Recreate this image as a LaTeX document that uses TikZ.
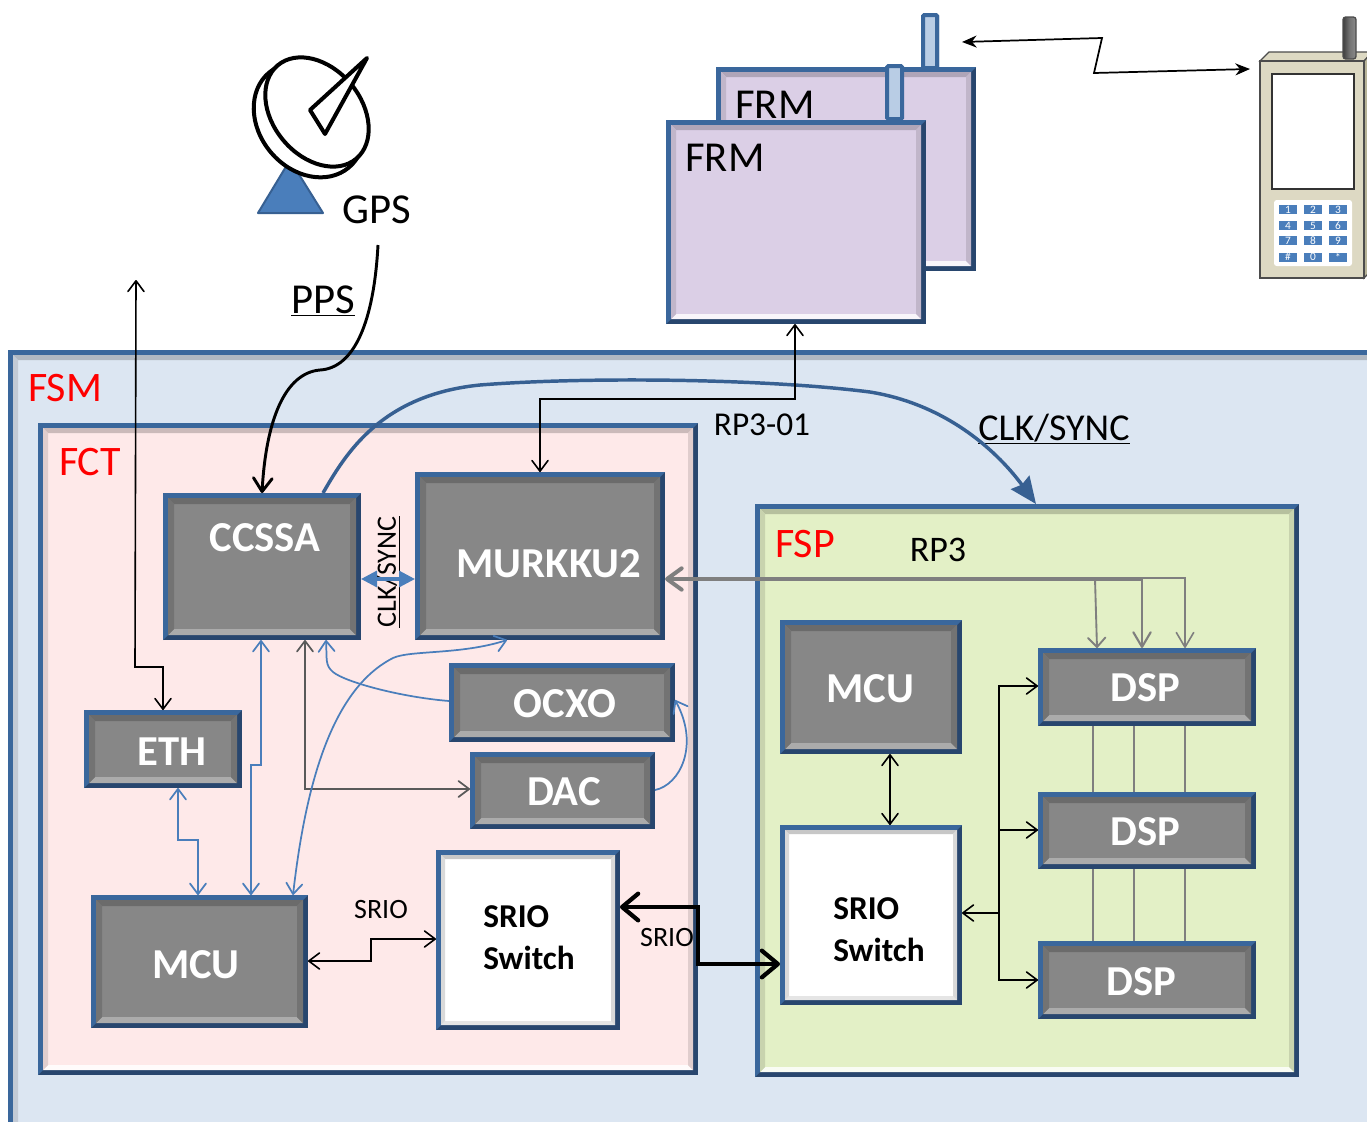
\documentclass[tikz,border=0pt]{standalone}
\usepackage{fontspec}
\setmainfont{Carlito}
\usetikzlibrary{arrows.meta,calc}
\definecolor{edgeblue}{HTML}{3A679C}
\definecolor{edgedark}{HTML}{28466E}
\definecolor{fsmfill}{HTML}{DCE6F2}
\definecolor{fctfill}{HTML}{FEE9E9}
\definecolor{fspfill}{HTML}{E3F0C6}
\definecolor{frmfill}{HTML}{DBCFE6}
\definecolor{antfill}{HTML}{B9CDE5}
\definecolor{boxgray}{HTML}{878787}
\definecolor{wire}{HTML}{4A7EBB}
\definecolor{wiredark}{HTML}{376092}
\definecolor{graywire}{HTML}{7F7F7F}
\definecolor{phonefill}{HTML}{DDD9C3}
\definecolor{phoneside}{HTML}{B8B498}
\definecolor{keyblue}{HTML}{4A7EBB}
\newcommand{\fs}[1]{\fontsize{#1}{#1}\selectfont}
\tikzset{
  x=0.75pt,y=-0.75pt,
  boxshape/.style={inner sep=0pt,outer sep=0pt},
  graytext/.style={text=white,font=\fs{32}\bfseries,inner sep=0pt},
  switchtext/.style={text=black,font=\fs{25}\bfseries,inner sep=0pt},
  lab/.style={font=\fs{#1},inner sep=0pt,text=black},
  redlab/.style={font=\fs{#1},inner sep=0pt,text=red},
  barb/.tip={Straight Barb[length=8pt,width=12pt,round]},
  bigbarb/.tip={Straight Barb[length=10pt,width=15pt,round]},
  thinblack/.style={draw=black,line width=1.2pt,{barb}-{barb}},
  thinblue/.style={draw=wire,line width=1.3pt},
  grayline/.style={draw=graywire,line width=1.2pt},
}
% x0,y0,x1,y1,fill,top bevel,bottom bevel,side bevel,bevel inset
\newcommand{\bevelled}[9]{%
  \fill[edgedark] (#1,#2) rectangle (#3,#4);
  \fill[edgeblue] (#1,#2) -- (#3,#2) -- (#3-5,#2+5) -- (#1+5,#2+5) -- (#1+5,#4-5) -- (#1,#4) -- cycle;
  \fill[#5] (#1+5,#2+5) rectangle (#3-5,#4-5);
  \fill[#6] (#1+5,#2+5) -- (#3-5,#2+5) -- (#3-#9,#2+#9) -- (#1+#9,#2+#9) -- cycle;
  \fill[#7] (#1+5,#4-5) -- (#3-5,#4-5) -- (#3-#9,#4-#9) -- (#1+#9,#4-#9) -- cycle;
  \fill[#8] (#1+5,#2+5) -- (#1+#9,#2+#9) -- (#1+#9,#4-#9) -- (#1+5,#4-5) -- cycle;
  \fill[#8] (#3-5,#2+5) -- (#3-#9,#2+#9) -- (#3-#9,#4-#9) -- (#3-5,#4-5) -- cycle;
}
% name, x0, y0, x1, y1, text, text x, text y
\newcommand{\gbox}[8]{%
  \bevelled{#2}{#3}{#4}{#5}{boxgray}{black!58}{black!33}{black!55}{11}
  \node[boxshape,minimum width={(#4-#2)*0.75pt},minimum height={(#5-#3)*0.75pt}] (#1) at ({(#2+#4)/2},{(#3+#5)/2}) {};
  \node[graytext] (#1t) at (#7,#8) {#6};
}
% name, x0, y0, x1, y1, x of text, y1 text, y2 text
\newcommand{\wbox}[8]{%
  \bevelled{#2}{#3}{#4}{#5}{white}{black!22}{black!10}{black!15}{9}
  \node[boxshape,minimum width={(#4-#2)*0.75pt},minimum height={(#5-#3)*0.75pt}] (#1) at ({(#2+#4)/2},{(#3+#5)/2}) {};
  \node[switchtext,anchor=west] (#1a) at (#6,#7) {SRIO};
  \node[switchtext,anchor=west] (#1b) at (#6,#8) {Switch};
}
% name, x0, y0, x1, y1, fill
\newcommand{\pbox}[6]{%
  \bevelled{#2}{#3}{#4}{#5}{#6}{#6!80!black}{#6!20!white}{#6!88!black}{10}
  \node[boxshape,minimum width={(#4-#2)*0.75pt},minimum height={(#5-#3)*0.75pt}] (#1) at ({(#2+#4)/2},{(#3+#5)/2}) {};
}
\newcommand{\antenna}[5]{%
  \node[boxshape,fill=antfill,draw=edgeblue,line width=3pt,rounded corners=1pt,minimum width={(#4-#2-4)*0.75pt},minimum height={(#5-#3-4)*0.75pt}] (#1) at ({(#2+#4)/2},{(#3+#5)/2}) {};
}
\begin{document}
\begin{tikzpicture}
\useasboundingbox[fill=white] (0,0) rectangle (1367,1121);
\begin{scope}
\clip (0,0) rectangle (1367,1121);

% --- GPS dish
\fill[wire,draw=wiredark,line width=1.5pt,line join=round] (290,160) -- (258,213) -- (323,213) -- cycle;
\draw[black,line width=3pt,fill=white] (309,120) ellipse [x radius=62,y radius=50,rotate=-50];
\draw[black,line width=3pt,fill=white] (317,112) ellipse [x radius=61,y radius=44,rotate=-50];
\draw[black,line width=3pt,fill=white,line join=round] (367,58) -- (310,110) -- (325,134) -- cycle;
\node[lab=32] (gps) at (377,210) {GPS};

% --- FRM units
\antenna{antback}{921}{13}{939}{70}
\pbox{frmback}{716}{67}{976}{271}{frmfill}
\antenna{antback}{921}{13}{939}{70}
\node[lab=32] (frmbacklab) at (775,105) {FRM};
\pbox{frmfront}{666}{120}{926}{324}{frmfill}
\antenna{antfront}{885}{64}{904}{121}
\node[lab=32] (frmfrontlab) at (725,158) {FRM};

% --- phone
\fill[phonefill,draw=black!70,line width=1pt] (1260,61) -- (1269,52) -- (1372,52) -- (1372,61) -- cycle;
\fill[phoneside,draw=black!70,line width=1pt] (1364,61) -- (1372,52) -- (1372,270) -- (1364,278) -- cycle;
\node[draw=black!70,fill=phonefill,line width=1pt,inner sep=0pt,minimum width=78pt,minimum height=162.75pt] (phone) at (1312,169.5) {};
\node[draw=black!80,fill=white,line width=1pt,inner sep=0pt,minimum width=61.5pt,minimum height=86.25pt] (screen) at (1313,131.5) {};
\node[fill=white,rounded corners=2pt,inner sep=0pt,minimum width=58.5pt,minimum height=49.5pt] (keypad) at (1313,233) {};
\foreach \kx/\ky/\kt/\kn in {1288/209.5/1/a,1313/209.5/2/b,1338/209.5/3/c,1288/225.5/4/d,1313/225.5/5/e,1338/225.5/6/f,1288/240.5/7/g,1313/240.5/8/h,1338/240.5/9/i,1288/257/\#/j,1313/257/0/k,1338/257/*/l}
  \node[fill=keyblue,text=white,font=\fs{8.5},inner sep=0pt,minimum width=13.5pt,minimum height=6.75pt] (key\kn) at (\kx,\ky) {\kt};
\shade[left color=black!75,right color=black!45,middle color=black!55,rounded corners=2pt] (1343,17) rectangle (1356,59);
\draw[black!70,line width=1pt,rounded corners=2pt] (1343,17) rectangle (1356,59);

% --- panels
\pbox{fsm}{8}{350}{1400}{1160}{fsmfill}
\pbox{fct}{38}{423}{698}{1075}{fctfill}
\pbox{fsp}{755}{504}{1299}{1077}{fspfill}
\node[redlab=31.5] (fsmlab) at (65,388) {FSM};
\node[redlab=31.5] (fctlab) at (90,462) {FCT};
\node[redlab=31.5] (fsplab) at (805,544) {FSP};

% --- gray boxes
\gbox{ccssa}{163}{493}{361}{640}{CCSSA}{265}{538}
\gbox{murkku}{415}{472}{665}{640}{MURKKU2}{549}{564}
\gbox{ocxo}{449}{663}{675}{742}{OCXO}{565}{704}
\gbox{dac}{470}{752}{655}{829}{DAC}{564}{792}
\gbox{eth}{84}{710}{242}{788}{ETH}{172}{752}
\gbox{mcua}{91}{895}{308}{1028}{MCU}{196}{965}
\gbox{mcub}{780}{620}{962}{754}{MCU}{870}{689}
\gbox{dspa}{1038}{648}{1256}{726}{DSP}{1145}{688}
\gbox{dspb}{1038}{792}{1256}{869}{DSP}{1145}{832}
\gbox{dspc}{1038}{941}{1256}{1019}{DSP}{1141}{982}
\wbox{swa}{436}{850}{620}{1030}{483}{917}{958}
\wbox{swb}{780}{825}{962}{1005}{833}{909}{950}

% --- free-end coordinates
\coordinate (radioa) at (962,42);
\coordinate (radiob) at (1250,69);
\coordinate (uplink) at (136,280);
\coordinate (ppsout) at (378,245);

% --- labels
\node[lab=32] (ppslab) at (323,301) {\underline{PPS}};
\node[lab=25] (rp301) at (762,425) {RP3-01};
\node[lab=28.5] (clklab) at (1054,429) {\underline{CLK/SYNC}};
\node[lab=27] (rp3lab) at (938,550) {RP3};
\node[lab=21] (srioa) at (381,909) {SRIO};
\node[lab=21] (sriob) at (667,937) {SRIO};
\node[lab=21,rotate=90] (clkv) at (388,572) {\underline{CLK/SYNC}};

% --- connectors
\draw[black,line width=1.3pt,{Stealth[length=11pt,width=9pt]}-{Stealth[length=11pt,width=9pt]}] (radioa) -- (1102,38) -- (1094,73) -- (radiob);
\draw[thinblack] (uplink) -- (135,667) -- (163,667) -- (eth.north -| 163,0);
\draw[black,line width=2.2pt,-{Straight Barb[length=10pt,width=14pt,round]}] (ppsout) .. controls (374,320) and (355,368) .. (320,370) .. controls (285,373) and (266,420) .. (ccssa.north -| 262,0);
\draw[wiredark,line width=2.6pt,-{Stealth[length=20pt,width=17pt,inset=2pt]}] (ccssa.north -| 323,0) .. controls (345,455) and (380,395) .. (480,385) .. controls (580,377) and (760,378) .. (870,392) .. controls (950,405) and (1000,455) .. (fsp.north -| 1036,0);
\draw[thinblack] (frmfront.south -| 795,0) -- (795,399) -- (540,399) -- (murkku.north -| 540,0);
\draw[wire,line width=2.4pt,{Stealth[length=12pt,width=12pt,inset=0pt]}-{Stealth[length=12pt,width=12pt,inset=0pt]}] (ccssa.east |- 0,579) -- (murkku.west |- 0,579);
% gray bus
\draw[graywire,line width=3pt,-{Straight Barb[length=11pt,width=16pt,round]}] (1142,579) -- (murkku.east |- 0,579);
\draw[grayline,line width=1.6pt,-{Straight Barb[length=11pt,width=13pt,round]}] (1142,579) -- (dspa.north -| 1142,0);
\draw[grayline,line width=1.4pt,-{Straight Barb[length=7pt,width=13pt,round]}] (1095,579) -- (dspa.north -| 1097,0);
\draw[grayline,-{Straight Barb[length=11pt,width=13pt,round]}] (1142,578) -- (1185,578) -- (dspa.north -| 1185,0);
% blue links
\draw[thinblue,{barb}-{barb}] (ccssa.south -| 261,0) -- (261,765) -- (251,765) -- (mcua.north -| 251,0);
\draw[thinblue,{barb}-{barb}] (eth.south -| 178,0) -- (178,840) -- (198,840) -- (mcua.north -| 198,0);
\draw[black!65,line width=1.3pt,{barb}-{barb}] (ccssa.south -| 305,0) -- (305,789) -- (dac.west |- 0,789);
\draw[thinblue,-{barb}] (ocxo.west |- 0,701) .. controls (400,697) and (345,682) .. (333,672) .. controls (325,665) and (327,660) .. (ccssa.south -| 326,0);
\draw[thinblue,{barb}-{barb}] (mcua.north -| 293,0) .. controls (305,790) and (330,690) .. (393,658) .. controls (410,650) and (460,655) .. (murkku.south -| 507,0);
\draw[thinblue,-{barb}] (dac.east |- 0,790) .. controls (680,785) and (700,745) .. (ocxo.east |- 0,700);
% SRIO links
\draw[thinblack] (mcua.east |- 0,961) -- (371,961) -- (371,939) -- (swa.west |- 0,939);
\draw[black,line width=3.2pt,{Straight Barb[length=12pt,width=20pt,round]}-{Straight Barb[length=12pt,width=20pt,round]}] (swa.east |- 0,907) -- (698,907) -- (698,964) -- (swb.west |- 0,964);
% FSP internal
\draw[thinblack] (mcub.south -| 890,0) -- (swb.north -| 890,0);
\draw[black,line width=1.2pt,-{barb}] (999,913) -- (swb.east |- 0,913);
\draw[thinblack] (dspa.west |- 0,686) -- (999,686) -- (999,980) -- (dspc.west |- 0,980);
\draw[black,line width=1.2pt,-{barb}] (999,830) -- (dspb.west |- 0,830);
\foreach \gx in {1093,1134,1185} {
  \draw[grayline] (dspa.south -| \gx,0) -- (dspb.north -| \gx,0);
  \draw[grayline] (dspb.south -| \gx,0) -- (dspc.north -| \gx,0);
}
\end{scope}
\end{tikzpicture}
\end{document}
